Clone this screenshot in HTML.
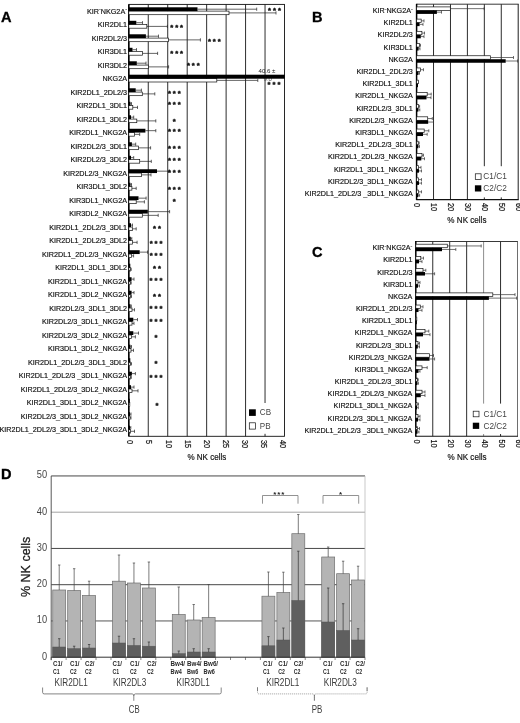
<!DOCTYPE html>
<html lang="en"><head><meta charset="utf-8"><title>Figure</title>
<style>
html,body{margin:0;padding:0;background:#fff;}
body{width:520px;height:723px;overflow:hidden;}
svg{display:block;font-family:'Liberation Sans', Arial, Helvetica, sans-serif;}
</style></head><body>
<svg width="520" height="723" viewBox="0 0 520 723">
<rect width="520" height="723" fill="#fff"/>
<g id="panelA">
<line x1="148.26" y1="4.40" x2="148.26" y2="436.30" stroke="#222" stroke-width="0.95"/>
<line x1="167.73" y1="4.40" x2="167.73" y2="436.30" stroke="#222" stroke-width="0.95"/>
<line x1="187.19" y1="4.40" x2="187.19" y2="436.30" stroke="#222" stroke-width="0.95"/>
<line x1="206.65" y1="4.40" x2="206.65" y2="436.30" stroke="#222" stroke-width="0.95"/>
<line x1="226.11" y1="4.40" x2="226.11" y2="436.30" stroke="#222" stroke-width="0.95"/>
<line x1="245.57" y1="4.40" x2="245.57" y2="436.30" stroke="#222" stroke-width="0.95"/>
<line x1="265.04" y1="4.40" x2="265.04" y2="436.30" stroke="#222" stroke-width="0.95"/>
<rect x="247.5" y="403" width="34" height="30.8" fill="#fff"/>
<rect x="128.80" y="4.40" width="155.70" height="431.90" fill="none" stroke="#111" stroke-width="0.9"/>
<line x1="128.80" y1="4.40" x2="128.80" y2="436.30" stroke="#000" stroke-width="1.5"/>
<text x="263.5" y="81.0" font-size="6.1" fill="#555">9.0</text>
<path d="M229.00 12.90H276.00M276.00 11.30V14.50" stroke="#222" stroke-width="0.7" fill="none"/>
<path d="M197.50 9.20H256.70M256.70 7.60V10.80" stroke="#222" stroke-width="0.7" fill="none"/>
<rect x="128.80" y="11.10" width="100.20" height="3.60" fill="#fff" stroke="#111" stroke-width="0.7"/>
<rect x="128.80" y="7.30" width="68.70" height="3.80" fill="#000"/>
<text x="275.48" y="12.96" font-size="7.6" text-anchor="middle" letter-spacing="1.95" fill="#111" stroke="#111" stroke-width="0.4" stroke-linejoin="round" font-weight="bold">***</text>
<text transform="translate(127.00,13.80) scale(0.9025,1)" font-size="8.00" text-anchor="end" fill="#111" stroke="#111" stroke-width="0.18" >KIR<tspan dy="-2.4" font-size="6.0">-</tspan><tspan dy="2.4">NKG2A</tspan><tspan dy="-2.4" font-size="6.0">-</tspan></text>
<path d="M146.80 26.40H167.40M167.40 24.80V28.00" stroke="#222" stroke-width="0.7" fill="none"/>
<path d="M136.30 22.70H142.50M142.50 21.10V24.30" stroke="#222" stroke-width="0.7" fill="none"/>
<rect x="128.80" y="24.60" width="18.00" height="3.60" fill="#fff" stroke="#111" stroke-width="0.7"/>
<rect x="128.80" y="20.80" width="7.50" height="3.80" fill="#000"/>
<text x="177.67" y="29.56" font-size="7.6" text-anchor="middle" letter-spacing="1.95" fill="#111" stroke="#111" stroke-width="0.4" stroke-linejoin="round" font-weight="bold">***</text>
<text transform="translate(127.00,27.30) scale(0.9025,1)" font-size="8.00" text-anchor="end" fill="#111" stroke="#111" stroke-width="0.18" >KIR2DL1</text>
<path d="M168.40 39.89H200.40M200.40 38.29V41.49" stroke="#222" stroke-width="0.7" fill="none"/>
<path d="M145.90 36.19H158.50M158.50 34.59V37.79" stroke="#222" stroke-width="0.7" fill="none"/>
<rect x="128.80" y="38.09" width="39.60" height="3.60" fill="#fff" stroke="#111" stroke-width="0.7"/>
<rect x="128.80" y="34.29" width="17.10" height="3.80" fill="#000"/>
<text x="215.28" y="43.96" font-size="7.6" text-anchor="middle" letter-spacing="1.95" fill="#111" stroke="#111" stroke-width="0.4" stroke-linejoin="round" font-weight="bold">***</text>
<text transform="translate(127.00,40.79) scale(0.9025,1)" font-size="8.00" text-anchor="end" fill="#111" stroke="#111" stroke-width="0.18" >KIR2DL2/3</text>
<path d="M142.50 53.39H157.60M157.60 51.79V54.99" stroke="#222" stroke-width="0.7" fill="none"/>
<path d="M132.50 49.69H136.50M136.50 48.09V51.29" stroke="#222" stroke-width="0.7" fill="none"/>
<rect x="128.80" y="51.59" width="13.70" height="3.60" fill="#fff" stroke="#111" stroke-width="0.7"/>
<rect x="128.80" y="47.79" width="3.70" height="3.80" fill="#000"/>
<text x="177.67" y="55.96" font-size="7.6" text-anchor="middle" letter-spacing="1.95" fill="#111" stroke="#111" stroke-width="0.4" stroke-linejoin="round" font-weight="bold">***</text>
<text transform="translate(127.00,54.29) scale(0.9025,1)" font-size="8.00" text-anchor="end" fill="#111" stroke="#111" stroke-width="0.18" >KIR3DL1</text>
<path d="M148.40 66.89H168.60M168.60 65.29V68.49" stroke="#222" stroke-width="0.7" fill="none"/>
<path d="M136.80 63.19H146.00M146.00 61.59V64.79" stroke="#222" stroke-width="0.7" fill="none"/>
<rect x="128.80" y="65.09" width="19.60" height="3.60" fill="#fff" stroke="#111" stroke-width="0.7"/>
<rect x="128.80" y="61.29" width="8.00" height="3.80" fill="#000"/>
<text x="194.28" y="67.96" font-size="7.6" text-anchor="middle" letter-spacing="1.95" fill="#111" stroke="#111" stroke-width="0.4" stroke-linejoin="round" font-weight="bold">***</text>
<text transform="translate(127.00,67.79) scale(0.9025,1)" font-size="8.00" text-anchor="end" fill="#111" stroke="#111" stroke-width="0.18" >KIR3DL2</text>
<path d="M216.80 80.38H257.80M257.80 78.78V81.98" stroke="#222" stroke-width="0.7" fill="none"/>
<rect x="128.80" y="78.60" width="88.00" height="3.40" fill="#fff" stroke="#111" stroke-width="0.7"/>
<rect x="128.80" y="74.70" width="156.00" height="4.00" fill="#000"/>
<text x="274.98" y="86.76" font-size="7.6" text-anchor="middle" letter-spacing="1.95" fill="#111" stroke="#111" stroke-width="0.4" stroke-linejoin="round" font-weight="bold">***</text>
<text transform="translate(127.00,81.28) scale(0.9025,1)" font-size="8.00" text-anchor="end" fill="#111" stroke="#111" stroke-width="0.18" >NKG2A</text>
<path d="M142.30 93.88H154.80M154.80 92.28V95.48" stroke="#222" stroke-width="0.7" fill="none"/>
<path d="M135.70 90.18H141.40M141.40 88.58V91.78" stroke="#222" stroke-width="0.7" fill="none"/>
<rect x="128.80" y="92.08" width="13.50" height="3.60" fill="#fff" stroke="#111" stroke-width="0.7"/>
<rect x="128.80" y="88.28" width="6.90" height="3.80" fill="#000"/>
<text x="175.28" y="96.16" font-size="7.6" text-anchor="middle" letter-spacing="1.95" fill="#111" stroke="#111" stroke-width="0.4" stroke-linejoin="round" font-weight="bold">***</text>
<text transform="translate(127.00,94.78) scale(0.9025,1)" font-size="8.00" text-anchor="end" fill="#111" stroke="#111" stroke-width="0.18" >KIR2DL1_2DL2/3</text>
<path d="M132.80 107.38H137.50M137.50 105.78V108.98" stroke="#222" stroke-width="0.7" fill="none"/>
<path d="M130.50 103.68H131.50M131.50 102.08V105.28" stroke="#222" stroke-width="0.7" fill="none"/>
<rect x="128.80" y="105.58" width="4.00" height="3.60" fill="#fff" stroke="#111" stroke-width="0.7"/>
<rect x="128.80" y="101.78" width="1.70" height="3.80" fill="#000"/>
<text x="175.28" y="107.36" font-size="7.6" text-anchor="middle" letter-spacing="1.95" fill="#111" stroke="#111" stroke-width="0.4" stroke-linejoin="round" font-weight="bold">***</text>
<text transform="translate(127.00,108.28) scale(0.9025,1)" font-size="8.00" text-anchor="end" fill="#111" stroke="#111" stroke-width="0.18" >KIR2DL1_3DL1</text>
<path d="M136.80 120.88H155.80M155.80 119.28V122.48" stroke="#222" stroke-width="0.7" fill="none"/>
<path d="M131.00 117.18H133.70M133.70 115.58V118.78" stroke="#222" stroke-width="0.7" fill="none"/>
<rect x="128.80" y="119.08" width="8.00" height="3.60" fill="#fff" stroke="#111" stroke-width="0.7"/>
<rect x="128.80" y="115.28" width="2.20" height="3.80" fill="#000"/>
<text x="175.28" y="123.96" font-size="7.6" text-anchor="middle" letter-spacing="1.95" fill="#111" stroke="#111" stroke-width="0.4" stroke-linejoin="round" font-weight="bold">*</text>
<text transform="translate(127.00,121.77) scale(0.9025,1)" font-size="8.00" text-anchor="end" fill="#111" stroke="#111" stroke-width="0.18" >KIR2DL1_3DL2</text>
<path d="M134.50 134.37H139.70M139.70 132.77V135.97" stroke="#222" stroke-width="0.7" fill="none"/>
<path d="M145.40 130.67H155.80M155.80 129.07V132.27" stroke="#222" stroke-width="0.7" fill="none"/>
<rect x="128.80" y="132.57" width="5.70" height="3.60" fill="#fff" stroke="#111" stroke-width="0.7"/>
<rect x="128.80" y="128.77" width="16.60" height="3.80" fill="#000"/>
<text x="175.28" y="134.46" font-size="7.6" text-anchor="middle" letter-spacing="1.95" fill="#111" stroke="#111" stroke-width="0.4" stroke-linejoin="round" font-weight="bold">***</text>
<text transform="translate(127.00,135.27) scale(0.9025,1)" font-size="8.00" text-anchor="end" fill="#111" stroke="#111" stroke-width="0.18" >KIR2DL1_NKG2A</text>
<path d="M138.50 147.87H150.60M150.60 146.27V149.47" stroke="#222" stroke-width="0.7" fill="none"/>
<path d="M131.90 144.17H135.70M135.70 142.57V145.77" stroke="#222" stroke-width="0.7" fill="none"/>
<rect x="128.80" y="146.07" width="9.70" height="3.60" fill="#fff" stroke="#111" stroke-width="0.7"/>
<rect x="128.80" y="142.27" width="3.10" height="3.80" fill="#000"/>
<text x="175.28" y="150.86" font-size="7.6" text-anchor="middle" letter-spacing="1.95" fill="#111" stroke="#111" stroke-width="0.4" stroke-linejoin="round" font-weight="bold">***</text>
<text transform="translate(127.00,148.77) scale(0.9025,1)" font-size="8.00" text-anchor="end" fill="#111" stroke="#111" stroke-width="0.18" >KIR2DL2/3_3DL1</text>
<path d="M139.70 161.37H151.30M151.30 159.77V162.97" stroke="#222" stroke-width="0.7" fill="none"/>
<path d="M131.00 157.67H133.70M133.70 156.07V159.27" stroke="#222" stroke-width="0.7" fill="none"/>
<rect x="128.80" y="159.57" width="10.90" height="3.60" fill="#fff" stroke="#111" stroke-width="0.7"/>
<rect x="128.80" y="155.77" width="2.20" height="3.80" fill="#000"/>
<text x="175.28" y="163.36" font-size="7.6" text-anchor="middle" letter-spacing="1.95" fill="#111" stroke="#111" stroke-width="0.4" stroke-linejoin="round" font-weight="bold">***</text>
<text transform="translate(127.00,162.26) scale(0.9025,1)" font-size="8.00" text-anchor="end" fill="#111" stroke="#111" stroke-width="0.18" >KIR2DL2/3_3DL2</text>
<path d="M141.40 174.86H151.00M151.00 173.26V176.46" stroke="#222" stroke-width="0.7" fill="none"/>
<path d="M157.00 171.16H169.10M169.10 169.56V172.76" stroke="#222" stroke-width="0.7" fill="none"/>
<rect x="128.80" y="173.06" width="12.60" height="3.60" fill="#fff" stroke="#111" stroke-width="0.7"/>
<rect x="128.80" y="169.26" width="28.20" height="3.80" fill="#000"/>
<text x="175.28" y="175.46" font-size="7.6" text-anchor="middle" letter-spacing="1.95" fill="#111" stroke="#111" stroke-width="0.4" stroke-linejoin="round" font-weight="bold">***</text>
<text transform="translate(127.00,175.76) scale(0.9025,1)" font-size="8.00" text-anchor="end" fill="#111" stroke="#111" stroke-width="0.18" >KIR2DL2/3_NKG2A</text>
<path d="M131.90 188.36H136.20M136.20 186.76V189.96" stroke="#222" stroke-width="0.7" fill="none"/>
<path d="M130.50 184.66H131.50M131.50 183.06V186.26" stroke="#222" stroke-width="0.7" fill="none"/>
<rect x="128.80" y="186.56" width="3.10" height="3.60" fill="#fff" stroke="#111" stroke-width="0.7"/>
<rect x="128.80" y="182.76" width="1.70" height="3.80" fill="#000"/>
<text x="175.28" y="192.26" font-size="7.6" text-anchor="middle" letter-spacing="1.95" fill="#111" stroke="#111" stroke-width="0.4" stroke-linejoin="round" font-weight="bold">***</text>
<text transform="translate(127.00,189.26) scale(0.9025,1)" font-size="8.00" text-anchor="end" fill="#111" stroke="#111" stroke-width="0.18" >KIR3DL1_3DL2</text>
<path d="M136.20 201.86H144.40M144.40 200.26V203.46" stroke="#222" stroke-width="0.7" fill="none"/>
<path d="M138.50 198.16H146.10M146.10 196.56V199.76" stroke="#222" stroke-width="0.7" fill="none"/>
<rect x="128.80" y="200.06" width="7.40" height="3.60" fill="#fff" stroke="#111" stroke-width="0.7"/>
<rect x="128.80" y="196.26" width="9.70" height="3.80" fill="#000"/>
<text x="175.28" y="204.36" font-size="7.6" text-anchor="middle" letter-spacing="1.95" fill="#111" stroke="#111" stroke-width="0.4" stroke-linejoin="round" font-weight="bold">*</text>
<text transform="translate(127.00,202.75) scale(0.9025,1)" font-size="8.00" text-anchor="end" fill="#111" stroke="#111" stroke-width="0.18" >KIR3DL1_NKG2A</text>
<path d="M142.30 215.35H158.20M158.20 213.75V216.95" stroke="#222" stroke-width="0.7" fill="none"/>
<path d="M147.80 211.65H169.60M169.60 210.05V213.25" stroke="#222" stroke-width="0.7" fill="none"/>
<rect x="128.80" y="213.55" width="13.50" height="3.60" fill="#fff" stroke="#111" stroke-width="0.7"/>
<rect x="128.80" y="209.75" width="19.00" height="3.80" fill="#000"/>
<text transform="translate(127.00,216.25) scale(0.9025,1)" font-size="8.00" text-anchor="end" fill="#111" stroke="#111" stroke-width="0.18" >KIR3DL2_NKG2A</text>
<path d="M132.30 228.85H136.20M136.20 227.25V230.45" stroke="#222" stroke-width="0.7" fill="none"/>
<path d="M131.00 225.15H132.50M132.50 223.55V226.75" stroke="#222" stroke-width="0.7" fill="none"/>
<rect x="128.80" y="227.05" width="3.50" height="3.60" fill="#fff" stroke="#111" stroke-width="0.7"/>
<rect x="128.80" y="223.25" width="2.20" height="3.80" fill="#000"/>
<text x="157.97" y="230.66" font-size="7.6" text-anchor="middle" letter-spacing="1.95" fill="#111" stroke="#111" stroke-width="0.4" stroke-linejoin="round" font-weight="bold">**</text>
<text transform="translate(127.00,229.75) scale(0.9025,1)" font-size="8.00" text-anchor="end" fill="#111" stroke="#111" stroke-width="0.18" >KIR2DL1_2DL2/3_3DL1</text>
<path d="M132.50 242.35H137.10M137.10 240.75V243.95" stroke="#222" stroke-width="0.7" fill="none"/>
<path d="M130.80 238.65H131.80M131.80 237.05V240.25" stroke="#222" stroke-width="0.7" fill="none"/>
<rect x="128.80" y="240.55" width="3.70" height="3.60" fill="#fff" stroke="#111" stroke-width="0.7"/>
<rect x="128.80" y="236.75" width="2.00" height="3.80" fill="#000"/>
<text x="157.07" y="245.56" font-size="7.6" text-anchor="middle" letter-spacing="1.95" fill="#111" stroke="#111" stroke-width="0.4" stroke-linejoin="round" font-weight="bold">***</text>
<text transform="translate(127.00,243.25) scale(0.9025,1)" font-size="8.00" text-anchor="end" fill="#111" stroke="#111" stroke-width="0.18" >KIR2DL1_2DL2/3_3DL2</text>
<path d="M131.60 255.84H133.60M133.60 254.24V257.44" stroke="#222" stroke-width="0.7" fill="none"/>
<path d="M139.70 252.14H147.50M147.50 250.54V253.74" stroke="#222" stroke-width="0.7" fill="none"/>
<rect x="128.80" y="254.04" width="2.80" height="3.60" fill="#fff" stroke="#111" stroke-width="0.7"/>
<rect x="128.80" y="250.24" width="10.90" height="3.80" fill="#000"/>
<text x="157.07" y="257.66" font-size="7.6" text-anchor="middle" letter-spacing="1.95" fill="#111" stroke="#111" stroke-width="0.4" stroke-linejoin="round" font-weight="bold">***</text>
<text transform="translate(127.00,256.74) scale(0.9025,1)" font-size="8.00" text-anchor="end" fill="#111" stroke="#111" stroke-width="0.18" >KIR2DL1_2DL2/3_NKG2A</text>
<path d="M130.30 269.34H131.20M131.20 267.74V270.94" stroke="#222" stroke-width="0.7" fill="none"/>
<rect x="128.80" y="267.54" width="1.50" height="3.60" fill="#fff" stroke="#111" stroke-width="0.7"/>
<rect x="128.80" y="263.74" width="1.50" height="3.80" fill="#000"/>
<text x="157.97" y="271.36" font-size="7.6" text-anchor="middle" letter-spacing="1.95" fill="#111" stroke="#111" stroke-width="0.4" stroke-linejoin="round" font-weight="bold">**</text>
<text transform="translate(127.00,270.24) scale(0.9025,1)" font-size="8.00" text-anchor="end" fill="#111" stroke="#111" stroke-width="0.18" >KIR2DL1_3DL1_3DL2</text>
<path d="M130.30 282.84H131.20M131.20 281.24V284.44" stroke="#222" stroke-width="0.7" fill="none"/>
<path d="M131.60 279.14H134.00M134.00 277.54V280.74" stroke="#222" stroke-width="0.7" fill="none"/>
<rect x="128.80" y="281.04" width="1.50" height="3.60" fill="#fff" stroke="#111" stroke-width="0.7"/>
<rect x="128.80" y="277.24" width="2.80" height="3.80" fill="#000"/>
<text x="156.97" y="283.46" font-size="7.6" text-anchor="middle" letter-spacing="1.95" fill="#111" stroke="#111" stroke-width="0.4" stroke-linejoin="round" font-weight="bold">***</text>
<text transform="translate(127.00,283.74) scale(0.9025,1)" font-size="8.00" text-anchor="end" fill="#111" stroke="#111" stroke-width="0.18" >KIR2DL1_3DL1_NKG2A</text>
<path d="M130.30 296.33H131.50M131.50 294.73V297.93" stroke="#222" stroke-width="0.7" fill="none"/>
<path d="M131.60 292.63H134.00M134.00 291.03V294.23" stroke="#222" stroke-width="0.7" fill="none"/>
<rect x="128.80" y="294.53" width="1.50" height="3.60" fill="#fff" stroke="#111" stroke-width="0.7"/>
<rect x="128.80" y="290.73" width="2.80" height="3.80" fill="#000"/>
<text x="157.97" y="298.96" font-size="7.6" text-anchor="middle" letter-spacing="1.95" fill="#111" stroke="#111" stroke-width="0.4" stroke-linejoin="round" font-weight="bold">**</text>
<text transform="translate(127.00,297.23) scale(0.9025,1)" font-size="8.00" text-anchor="end" fill="#111" stroke="#111" stroke-width="0.18" >KIR2DL1_3DL2_NKG2A</text>
<path d="M132.00 309.83H134.50M134.50 308.23V311.43" stroke="#222" stroke-width="0.7" fill="none"/>
<path d="M130.50 306.13H131.30M131.30 304.53V307.73" stroke="#222" stroke-width="0.7" fill="none"/>
<rect x="128.80" y="308.03" width="3.20" height="3.60" fill="#fff" stroke="#111" stroke-width="0.7"/>
<rect x="128.80" y="304.23" width="1.70" height="3.80" fill="#000"/>
<text x="156.97" y="311.16" font-size="7.6" text-anchor="middle" letter-spacing="1.95" fill="#111" stroke="#111" stroke-width="0.4" stroke-linejoin="round" font-weight="bold">***</text>
<text transform="translate(127.00,310.73) scale(0.9025,1)" font-size="8.00" text-anchor="end" fill="#111" stroke="#111" stroke-width="0.18" >KIR2DL2/3_3DL1_3DL2</text>
<path d="M132.00 323.33H134.00M134.00 321.73V324.93" stroke="#222" stroke-width="0.7" fill="none"/>
<path d="M133.30 319.63H137.50M137.50 318.03V321.23" stroke="#222" stroke-width="0.7" fill="none"/>
<rect x="128.80" y="321.53" width="3.20" height="3.60" fill="#fff" stroke="#111" stroke-width="0.7"/>
<rect x="128.80" y="317.73" width="4.50" height="3.80" fill="#000"/>
<text x="156.97" y="323.76" font-size="7.6" text-anchor="middle" letter-spacing="1.95" fill="#111" stroke="#111" stroke-width="0.4" stroke-linejoin="round" font-weight="bold">***</text>
<text transform="translate(127.00,324.23) scale(0.9025,1)" font-size="8.00" text-anchor="end" fill="#111" stroke="#111" stroke-width="0.18" >KIR2DL2/3_3DL1_NKG2A</text>
<path d="M131.50 336.82H135.40M135.40 335.22V338.43" stroke="#222" stroke-width="0.7" fill="none"/>
<path d="M133.30 333.12H138.50M138.50 331.52V334.73" stroke="#222" stroke-width="0.7" fill="none"/>
<rect x="128.80" y="335.02" width="2.70" height="3.60" fill="#fff" stroke="#111" stroke-width="0.7"/>
<rect x="128.80" y="331.22" width="4.50" height="3.80" fill="#000"/>
<text x="157.07" y="340.06" font-size="7.6" text-anchor="middle" letter-spacing="1.95" fill="#111" stroke="#111" stroke-width="0.4" stroke-linejoin="round" font-weight="bold">*</text>
<text transform="translate(127.00,337.72) scale(0.9025,1)" font-size="8.00" text-anchor="end" fill="#111" stroke="#111" stroke-width="0.18" >KIR2DL2/3_3DL2_NKG2A</text>
<path d="M131.00 350.32H133.50M133.50 348.72V351.92" stroke="#222" stroke-width="0.7" fill="none"/>
<path d="M130.50 346.62H131.50M131.50 345.02V348.22" stroke="#222" stroke-width="0.7" fill="none"/>
<rect x="128.80" y="348.52" width="2.20" height="3.60" fill="#fff" stroke="#111" stroke-width="0.7"/>
<rect x="128.80" y="344.72" width="1.70" height="3.80" fill="#000"/>
<text transform="translate(127.00,351.22) scale(0.9025,1)" font-size="8.00" text-anchor="end" fill="#111" stroke="#111" stroke-width="0.18" >KIR3DL1_3DL2_NKG2A</text>
<path d="M130.50 363.82H131.50M131.50 362.22V365.42" stroke="#222" stroke-width="0.7" fill="none"/>
<rect x="128.80" y="362.02" width="1.70" height="3.60" fill="#fff" stroke="#111" stroke-width="0.7"/>
<rect x="128.80" y="358.22" width="1.50" height="3.80" fill="#000"/>
<text x="157.07" y="365.96" font-size="7.6" text-anchor="middle" letter-spacing="1.95" fill="#111" stroke="#111" stroke-width="0.4" stroke-linejoin="round" font-weight="bold">*</text>
<text transform="translate(127.00,364.72) scale(0.9025,1)" font-size="8.00" text-anchor="end" fill="#111" stroke="#111" stroke-width="0.18" >KIR2DL1_2DL2/3_3DL1_3DL2</text>
<path d="M130.30 377.32H131.30M131.30 375.72V378.92" stroke="#222" stroke-width="0.7" fill="none"/>
<path d="M131.90 373.62H135.40M135.40 372.02V375.22" stroke="#222" stroke-width="0.7" fill="none"/>
<rect x="128.80" y="375.52" width="1.50" height="3.60" fill="#fff" stroke="#111" stroke-width="0.7"/>
<rect x="128.80" y="371.72" width="3.10" height="3.80" fill="#000"/>
<text x="156.97" y="379.86" font-size="7.6" text-anchor="middle" letter-spacing="1.95" fill="#111" stroke="#111" stroke-width="0.4" stroke-linejoin="round" font-weight="bold">***</text>
<text transform="translate(127.00,378.21) scale(0.9025,1)" font-size="8.00" text-anchor="end" fill="#111" stroke="#111" stroke-width="0.18" >KIR2DL1_2DL2/3 _3DL1_NKG2A</text>
<path d="M132.00 390.81H138.00M138.00 389.21V392.41" stroke="#222" stroke-width="0.7" fill="none"/>
<path d="M131.00 387.11H134.00M134.00 385.51V388.71" stroke="#222" stroke-width="0.7" fill="none"/>
<rect x="128.80" y="389.01" width="3.20" height="3.60" fill="#fff" stroke="#111" stroke-width="0.7"/>
<rect x="128.80" y="385.21" width="2.20" height="3.80" fill="#000"/>
<text transform="translate(127.00,391.71) scale(0.9025,1)" font-size="8.00" text-anchor="end" fill="#111" stroke="#111" stroke-width="0.18" >KIR2DL1_2DL2/3_3DL2_NKG2A</text>
<rect x="128.80" y="402.51" width="1.00" height="3.60" fill="#fff" stroke="#111" stroke-width="0.7"/>
<rect x="128.80" y="398.71" width="1.00" height="3.80" fill="#000"/>
<text x="157.97" y="407.96" font-size="7.6" text-anchor="middle" letter-spacing="1.95" fill="#111" stroke="#111" stroke-width="0.4" stroke-linejoin="round" font-weight="bold">*</text>
<text transform="translate(127.00,405.21) scale(0.9025,1)" font-size="8.00" text-anchor="end" fill="#111" stroke="#111" stroke-width="0.18" >KIR2DL1_3DL1_3DL2_NKG2A</text>
<path d="M130.00 417.81H131.00M131.00 416.21V419.41" stroke="#222" stroke-width="0.7" fill="none"/>
<path d="M130.00 414.11H131.00M131.00 412.51V415.71" stroke="#222" stroke-width="0.7" fill="none"/>
<rect x="128.80" y="416.01" width="1.20" height="3.60" fill="#fff" stroke="#111" stroke-width="0.7"/>
<rect x="128.80" y="412.21" width="1.20" height="3.80" fill="#000"/>
<text transform="translate(127.00,418.70) scale(0.9025,1)" font-size="8.00" text-anchor="end" fill="#111" stroke="#111" stroke-width="0.18" >KIR2DL2/3_3DL1_3DL2_NKG2A</text>
<path d="M130.50 431.30H134.50M134.50 429.70V432.90" stroke="#222" stroke-width="0.7" fill="none"/>
<path d="M130.00 427.60H130.80M130.80 426.00V429.20" stroke="#222" stroke-width="0.7" fill="none"/>
<rect x="128.80" y="429.50" width="1.70" height="3.60" fill="#fff" stroke="#111" stroke-width="0.7"/>
<rect x="128.80" y="425.70" width="1.20" height="3.80" fill="#000"/>
<text transform="translate(127.00,432.20) scale(0.9025,1)" font-size="8.00" text-anchor="end" fill="#111" stroke="#111" stroke-width="0.18" >KIR2DL1_2DL2/3_3DL1_3DL2_NKG2A</text>
<text x="258.5" y="73.3" font-size="6.1" fill="#222">40.6 ±</text>
<text transform="translate(127.40,439.9) rotate(90) scale(0.84,1)" font-size="8.8" fill="#111" stroke="#111" stroke-width="0.18">0</text>
<text transform="translate(146.49,439.9) rotate(90) scale(0.84,1)" font-size="8.8" fill="#111" stroke="#111" stroke-width="0.18">5</text>
<text transform="translate(165.58,439.9) rotate(90) scale(0.84,1)" font-size="8.8" fill="#111" stroke="#111" stroke-width="0.18">10</text>
<text transform="translate(184.67,439.9) rotate(90) scale(0.84,1)" font-size="8.8" fill="#111" stroke="#111" stroke-width="0.18">15</text>
<text transform="translate(203.76,439.9) rotate(90) scale(0.84,1)" font-size="8.8" fill="#111" stroke="#111" stroke-width="0.18">20</text>
<text transform="translate(222.85,439.9) rotate(90) scale(0.84,1)" font-size="8.8" fill="#111" stroke="#111" stroke-width="0.18">25</text>
<text transform="translate(241.94,439.9) rotate(90) scale(0.84,1)" font-size="8.8" fill="#111" stroke="#111" stroke-width="0.18">30</text>
<text transform="translate(261.03,439.9) rotate(90) scale(0.84,1)" font-size="8.8" fill="#111" stroke="#111" stroke-width="0.18">35</text>
<text transform="translate(280.12,439.9) rotate(90) scale(0.84,1)" font-size="8.8" fill="#111" stroke="#111" stroke-width="0.18">40</text>
<text transform="translate(206.8,460) scale(0.905,1)" font-size="8.9" text-anchor="middle" fill="#111" stroke="#111" stroke-width="0.18">% NK cells</text>
<rect x="249" y="409.3" width="6.8" height="6.6" fill="#000"/>
<rect x="249.3" y="422.8" width="6.3" height="6.3" fill="#fff" stroke="#111" stroke-width="0.7"/>
<text transform="translate(259.8,415.1) scale(0.9,1)" font-size="9" fill="#444">CB</text>
<text transform="translate(259.8,428.8) scale(0.9,1)" font-size="9" fill="#444">PB</text>
<text x="1.1" y="22" font-size="14.6" font-weight="bold" fill="#000" stroke="#000" stroke-width="0.3">A</text>
</g>
<g id="panelB">
<line x1="433.53" y1="4.20" x2="433.53" y2="199.60" stroke="#222" stroke-width="0.95"/>
<line x1="450.47" y1="4.20" x2="450.47" y2="199.60" stroke="#222" stroke-width="0.95"/>
<line x1="467.40" y1="4.20" x2="467.40" y2="199.60" stroke="#222" stroke-width="0.95"/>
<line x1="484.33" y1="4.20" x2="484.33" y2="199.60" stroke="#222" stroke-width="0.95"/>
<line x1="501.27" y1="4.20" x2="501.27" y2="199.60" stroke="#222" stroke-width="0.95"/>
<rect x="471.70" y="166.20" width="44.50" height="31.20" fill="#fff"/>
<path d="M416.60 4.20H518.70" fill="none" stroke="#222" stroke-width="0.9"/>
<path d="M518.20 4.20V199.60" fill="none" stroke="#111" stroke-width="0.95"/>
<path d="M416.60 199.60H518.70" fill="none" stroke="#111" stroke-width="1.1"/>
<line x1="416.60" y1="3.80" x2="416.60" y2="200.10" stroke="#000" stroke-width="1.5"/>
<path d="M450.30 8.65H484.20M484.20 7.15V10.15" stroke="#333" stroke-width="0.7" fill="none"/>
<path d="M436.90 12.15H441.50M441.50 10.65V13.65" stroke="#333" stroke-width="0.7" fill="none"/>
<rect x="416.60" y="6.90" width="33.70" height="3.50" fill="#fff" stroke="#111" stroke-width="0.7"/>
<rect x="416.60" y="10.40" width="20.30" height="3.50" fill="#000"/>
<text transform="translate(412.80,12.91) scale(0.9025,1)" font-size="7.98" text-anchor="end" fill="#111" stroke="#111" stroke-width="0.18" >KIR<tspan dy="-2.4" font-size="6.0">-</tspan><tspan dy="2.4">NKG2A</tspan><tspan dy="-2.4" font-size="6.0">-</tspan></text>
<path d="M421.20 20.86H424.00M424.00 19.36V22.36" stroke="#333" stroke-width="0.7" fill="none"/>
<path d="M419.60 24.36H423.00M423.00 22.86V25.86" stroke="#333" stroke-width="0.7" fill="none"/>
<rect x="416.60" y="19.11" width="4.60" height="3.50" fill="#fff" stroke="#111" stroke-width="0.7"/>
<rect x="416.60" y="22.61" width="3.00" height="3.50" fill="#000"/>
<text transform="translate(412.80,25.12) scale(0.9025,1)" font-size="7.98" text-anchor="end" fill="#111" stroke="#111" stroke-width="0.18" >KIR2DL1</text>
<path d="M421.90 33.08H424.50M424.50 31.58V34.58" stroke="#333" stroke-width="0.7" fill="none"/>
<path d="M420.80 36.58H424.00M424.00 35.08V38.08" stroke="#333" stroke-width="0.7" fill="none"/>
<rect x="416.60" y="31.32" width="5.30" height="3.50" fill="#fff" stroke="#111" stroke-width="0.7"/>
<rect x="416.60" y="34.83" width="4.20" height="3.50" fill="#000"/>
<text transform="translate(412.80,37.33) scale(0.9025,1)" font-size="7.98" text-anchor="end" fill="#111" stroke="#111" stroke-width="0.18" >KIR2DL2/3</text>
<path d="M419.40 45.29H420.50M420.50 43.79V46.79" stroke="#333" stroke-width="0.7" fill="none"/>
<path d="M418.60 48.79H420.00M420.00 47.29V50.29" stroke="#333" stroke-width="0.7" fill="none"/>
<rect x="416.60" y="43.54" width="2.80" height="3.50" fill="#fff" stroke="#111" stroke-width="0.7"/>
<rect x="416.60" y="47.04" width="2.00" height="3.50" fill="#000"/>
<text transform="translate(412.80,49.54) scale(0.9025,1)" font-size="7.98" text-anchor="end" fill="#111" stroke="#111" stroke-width="0.18" >KIR3DL1</text>
<path d="M490.50 57.50H513.50M513.50 56.00V59.00" stroke="#333" stroke-width="0.7" fill="none"/>
<path d="M505.70 61.00H517.50M517.50 59.50V62.50" stroke="#333" stroke-width="0.7" fill="none"/>
<rect x="416.60" y="55.75" width="73.90" height="3.50" fill="#fff" stroke="#111" stroke-width="0.7"/>
<rect x="416.60" y="59.25" width="89.10" height="3.50" fill="#000"/>
<text transform="translate(412.80,61.76) scale(0.9025,1)" font-size="7.98" text-anchor="end" fill="#111" stroke="#111" stroke-width="0.18" >NKG2A</text>
<path d="M420.60 69.71H423.50M423.50 68.21V71.21" stroke="#333" stroke-width="0.7" fill="none"/>
<path d="M418.50 73.21H419.50M419.50 71.71V74.71" stroke="#333" stroke-width="0.7" fill="none"/>
<rect x="416.60" y="67.96" width="4.00" height="3.50" fill="#fff" stroke="#111" stroke-width="0.7"/>
<rect x="416.60" y="71.46" width="1.90" height="3.50" fill="#000"/>
<text transform="translate(412.80,73.97) scale(0.9025,1)" font-size="7.98" text-anchor="end" fill="#111" stroke="#111" stroke-width="0.18" >KIR2DL1_2DL2/3</text>
<rect x="416.60" y="80.18" width="1.80" height="3.50" fill="#fff" stroke="#111" stroke-width="0.7"/>
<rect x="416.60" y="83.68" width="1.40" height="3.50" fill="#000"/>
<text transform="translate(412.80,86.18) scale(0.9025,1)" font-size="7.98" text-anchor="end" fill="#111" stroke="#111" stroke-width="0.18" >KIR2DL1_3DL1</text>
<path d="M427.20 94.14H431.20M431.20 92.64V95.64" stroke="#333" stroke-width="0.7" fill="none"/>
<path d="M426.50 97.64H431.00M431.00 96.14V99.14" stroke="#333" stroke-width="0.7" fill="none"/>
<rect x="416.60" y="92.39" width="10.60" height="3.50" fill="#fff" stroke="#111" stroke-width="0.7"/>
<rect x="416.60" y="95.89" width="9.90" height="3.50" fill="#000"/>
<text transform="translate(412.80,98.39) scale(0.9025,1)" font-size="7.98" text-anchor="end" fill="#111" stroke="#111" stroke-width="0.18" >KIR2DL1_NKG2A</text>
<path d="M418.60 106.35H419.60M419.60 104.85V107.85" stroke="#333" stroke-width="0.7" fill="none"/>
<path d="M418.40 109.85H419.80M419.80 108.35V111.35" stroke="#333" stroke-width="0.7" fill="none"/>
<rect x="416.60" y="104.60" width="2.00" height="3.50" fill="#fff" stroke="#111" stroke-width="0.7"/>
<rect x="416.60" y="108.10" width="1.80" height="3.50" fill="#000"/>
<text transform="translate(412.80,110.61) scale(0.9025,1)" font-size="7.98" text-anchor="end" fill="#111" stroke="#111" stroke-width="0.18" >KIR2DL2/3_3DL1</text>
<path d="M427.70 118.56H432.30M432.30 117.06V120.06" stroke="#333" stroke-width="0.7" fill="none"/>
<path d="M428.20 122.06H433.50M433.50 120.56V123.56" stroke="#333" stroke-width="0.7" fill="none"/>
<rect x="416.60" y="116.81" width="11.10" height="3.50" fill="#fff" stroke="#111" stroke-width="0.7"/>
<rect x="416.60" y="120.31" width="11.60" height="3.50" fill="#000"/>
<text transform="translate(412.80,122.82) scale(0.9025,1)" font-size="7.98" text-anchor="end" fill="#111" stroke="#111" stroke-width="0.18" >KIR2DL2/3_NKG2A</text>
<path d="M424.20 130.78H428.80M428.80 129.28V132.28" stroke="#333" stroke-width="0.7" fill="none"/>
<path d="M423.00 134.28H427.20M427.20 132.78V135.78" stroke="#333" stroke-width="0.7" fill="none"/>
<rect x="416.60" y="129.03" width="7.60" height="3.50" fill="#fff" stroke="#111" stroke-width="0.7"/>
<rect x="416.60" y="132.53" width="6.40" height="3.50" fill="#000"/>
<text transform="translate(412.80,135.03) scale(0.9025,1)" font-size="7.98" text-anchor="end" fill="#111" stroke="#111" stroke-width="0.18" >KIR3DL1_NKG2A</text>
<path d="M418.20 142.99H419.20M419.20 141.49V144.49" stroke="#333" stroke-width="0.7" fill="none"/>
<path d="M418.40 146.49H419.50M419.50 144.99V147.99" stroke="#333" stroke-width="0.7" fill="none"/>
<rect x="416.60" y="141.24" width="1.60" height="3.50" fill="#fff" stroke="#111" stroke-width="0.7"/>
<rect x="416.60" y="144.74" width="1.80" height="3.50" fill="#000"/>
<text transform="translate(412.80,147.24) scale(0.9025,1)" font-size="7.98" text-anchor="end" fill="#111" stroke="#111" stroke-width="0.18" >KIR2DL1_2DL2/3_3DL1</text>
<path d="M422.00 155.20H423.50M423.50 153.70V156.70" stroke="#333" stroke-width="0.7" fill="none"/>
<path d="M421.30 158.70H424.50M424.50 157.20V160.20" stroke="#333" stroke-width="0.7" fill="none"/>
<rect x="416.60" y="153.45" width="5.40" height="3.50" fill="#fff" stroke="#111" stroke-width="0.7"/>
<rect x="416.60" y="156.95" width="4.70" height="3.50" fill="#000"/>
<text transform="translate(412.80,159.46) scale(0.9025,1)" font-size="7.98" text-anchor="end" fill="#111" stroke="#111" stroke-width="0.18" >KIR2DL1_2DL2/3_NKG2A</text>
<path d="M418.50 167.41H421.00M421.00 165.91V168.91" stroke="#333" stroke-width="0.7" fill="none"/>
<path d="M419.00 170.91H421.50M421.50 169.41V172.41" stroke="#333" stroke-width="0.7" fill="none"/>
<rect x="416.60" y="165.66" width="1.90" height="3.50" fill="#fff" stroke="#111" stroke-width="0.7"/>
<rect x="416.60" y="169.16" width="2.40" height="3.50" fill="#000"/>
<text transform="translate(412.80,171.67) scale(0.9025,1)" font-size="7.98" text-anchor="end" fill="#111" stroke="#111" stroke-width="0.18" >KIR2DL1_3DL1_NKG2A</text>
<path d="M418.60 179.62H421.50M421.50 178.12V181.12" stroke="#333" stroke-width="0.7" fill="none"/>
<path d="M419.00 183.12H421.50M421.50 181.62V184.62" stroke="#333" stroke-width="0.7" fill="none"/>
<rect x="416.60" y="177.87" width="2.00" height="3.50" fill="#fff" stroke="#111" stroke-width="0.7"/>
<rect x="416.60" y="181.37" width="2.40" height="3.50" fill="#000"/>
<text transform="translate(412.80,183.88) scale(0.9025,1)" font-size="7.98" text-anchor="end" fill="#111" stroke="#111" stroke-width="0.18" >KIR2DL2/3_3DL1_NKG2A</text>
<path d="M418.60 191.84H421.50M421.50 190.34V193.34" stroke="#333" stroke-width="0.7" fill="none"/>
<path d="M418.40 195.34H419.60M419.60 193.84V196.84" stroke="#333" stroke-width="0.7" fill="none"/>
<rect x="416.60" y="190.09" width="2.00" height="3.50" fill="#fff" stroke="#111" stroke-width="0.7"/>
<rect x="416.60" y="193.59" width="1.80" height="3.50" fill="#000"/>
<text transform="translate(412.80,196.09) scale(0.9025,1)" font-size="7.98" text-anchor="end" fill="#111" stroke="#111" stroke-width="0.18" >KIR2DL1_2DL2/3 _3DL1_NKG2A</text>
<text transform="translate(414.10,202.90) rotate(90) scale(0.84,1)" font-size="8.8" fill="#111" stroke="#111" stroke-width="0.18">0</text>
<text transform="translate(431.03,202.90) rotate(90) scale(0.84,1)" font-size="8.8" fill="#111" stroke="#111" stroke-width="0.18">10</text>
<text transform="translate(447.97,202.90) rotate(90) scale(0.84,1)" font-size="8.8" fill="#111" stroke="#111" stroke-width="0.18">20</text>
<text transform="translate(464.90,202.90) rotate(90) scale(0.84,1)" font-size="8.8" fill="#111" stroke="#111" stroke-width="0.18">30</text>
<text transform="translate(481.83,202.90) rotate(90) scale(0.84,1)" font-size="8.8" fill="#111" stroke="#111" stroke-width="0.18">40</text>
<text transform="translate(498.77,202.90) rotate(90) scale(0.84,1)" font-size="8.8" fill="#111" stroke="#111" stroke-width="0.18">50</text>
<text transform="translate(515.70,202.90) rotate(90) scale(0.84,1)" font-size="8.8" fill="#111" stroke="#111" stroke-width="0.18">60</text>
<text transform="translate(466.90,223.20) scale(0.905,1)" font-size="8.95" text-anchor="middle" fill="#111" stroke="#111" stroke-width="0.18">% NK cells</text>
<rect x="475.30" y="173.80" width="5.8" height="5.6" fill="#fff" stroke="#111" stroke-width="0.7"/>
<rect x="474.90" y="185.30" width="6.4" height="6.2" fill="#000"/>
<text transform="translate(483.30,179.10) scale(0.9,1)" font-size="9.2" fill="#444">C1/C1</text>
<text transform="translate(483.30,191.40) scale(0.9,1)" font-size="9.2" fill="#444">C2/C2</text>
<text x="312.10" y="21.90" font-size="14.6" font-weight="bold" fill="#000" stroke="#000" stroke-width="0.3">B</text>
</g>
<g id="panelC">
<line x1="432.75" y1="241.50" x2="432.75" y2="436.20" stroke="#222" stroke-width="0.95"/>
<line x1="449.70" y1="241.50" x2="449.70" y2="436.20" stroke="#222" stroke-width="0.95"/>
<line x1="466.65" y1="241.50" x2="466.65" y2="436.20" stroke="#222" stroke-width="0.95"/>
<line x1="483.60" y1="241.50" x2="483.60" y2="436.20" stroke="#888" stroke-width="0.95"/>
<line x1="500.55" y1="241.50" x2="500.55" y2="436.20" stroke="#222" stroke-width="0.95"/>
<rect x="469.60" y="403.60" width="44.50" height="30.40" fill="#fff"/>
<path d="M415.80 241.50H518.00" fill="none" stroke="#222" stroke-width="0.9"/>
<path d="M517.50 241.50V436.20" fill="none" stroke="#666" stroke-width="0.95"/>
<path d="M415.80 436.20H518.00" fill="none" stroke="#111" stroke-width="1.1"/>
<line x1="415.80" y1="241.10" x2="415.80" y2="436.70" stroke="#000" stroke-width="1.5"/>
<path d="M447.30 245.95H481.20M481.20 244.45V247.45" stroke="#333" stroke-width="0.7" fill="none"/>
<path d="M442.00 249.45H455.80M455.80 247.95V250.95" stroke="#333" stroke-width="0.7" fill="none"/>
<rect x="415.80" y="244.20" width="31.50" height="3.50" fill="#fff" stroke="#111" stroke-width="0.7"/>
<rect x="415.80" y="247.70" width="26.20" height="3.50" fill="#000"/>
<text transform="translate(412.40,250.18) scale(0.9025,1)" font-size="7.98" text-anchor="end" fill="#111" stroke="#111" stroke-width="0.18" >KIR<tspan dy="-2.4" font-size="6.0">-</tspan><tspan dy="2.4">NKG2A</tspan><tspan dy="-2.4" font-size="6.0">-</tspan></text>
<path d="M420.80 258.12H423.50M423.50 256.62V259.62" stroke="#333" stroke-width="0.7" fill="none"/>
<path d="M419.00 261.62H422.00M422.00 260.12V263.12" stroke="#333" stroke-width="0.7" fill="none"/>
<rect x="415.80" y="256.37" width="5.00" height="3.50" fill="#fff" stroke="#111" stroke-width="0.7"/>
<rect x="415.80" y="259.87" width="3.20" height="3.50" fill="#000"/>
<text transform="translate(412.40,262.35) scale(0.9025,1)" font-size="7.98" text-anchor="end" fill="#111" stroke="#111" stroke-width="0.18" >KIR2DL1</text>
<path d="M423.00 270.29H425.80M425.80 268.79V271.79" stroke="#333" stroke-width="0.7" fill="none"/>
<path d="M425.00 273.79H434.60M434.60 272.29V275.29" stroke="#333" stroke-width="0.7" fill="none"/>
<rect x="415.80" y="268.54" width="7.20" height="3.50" fill="#fff" stroke="#111" stroke-width="0.7"/>
<rect x="415.80" y="272.04" width="9.20" height="3.50" fill="#000"/>
<text transform="translate(412.40,274.52) scale(0.9025,1)" font-size="7.98" text-anchor="end" fill="#111" stroke="#111" stroke-width="0.18" >KIR2DL2/3</text>
<path d="M418.00 282.46H420.00M420.00 280.96V283.96" stroke="#333" stroke-width="0.7" fill="none"/>
<path d="M418.00 285.96H419.50M419.50 284.46V287.46" stroke="#333" stroke-width="0.7" fill="none"/>
<rect x="415.80" y="280.71" width="2.20" height="3.50" fill="#fff" stroke="#111" stroke-width="0.7"/>
<rect x="415.80" y="284.21" width="2.20" height="3.50" fill="#000"/>
<text transform="translate(412.40,286.69) scale(0.9025,1)" font-size="7.98" text-anchor="end" fill="#111" stroke="#111" stroke-width="0.18" >KIR3DL1</text>
<path d="M492.80 294.62H515.00M515.00 293.12V296.12" stroke="#333" stroke-width="0.7" fill="none"/>
<path d="M488.90 298.12H516.50M516.50 296.62V299.62" stroke="#333" stroke-width="0.7" fill="none"/>
<rect x="415.80" y="292.88" width="77.00" height="3.50" fill="#fff" stroke="#111" stroke-width="0.7"/>
<rect x="415.80" y="296.38" width="73.10" height="3.50" fill="#000"/>
<text transform="translate(412.40,298.86) scale(0.9025,1)" font-size="7.98" text-anchor="end" fill="#111" stroke="#111" stroke-width="0.18" >NKG2A</text>
<path d="M420.30 306.79H423.00M423.00 305.29V308.29" stroke="#333" stroke-width="0.7" fill="none"/>
<path d="M418.50 310.29H422.00M422.00 308.79V311.79" stroke="#333" stroke-width="0.7" fill="none"/>
<rect x="415.80" y="305.04" width="4.50" height="3.50" fill="#fff" stroke="#111" stroke-width="0.7"/>
<rect x="415.80" y="308.54" width="2.70" height="3.50" fill="#000"/>
<text transform="translate(412.40,311.03) scale(0.9025,1)" font-size="7.98" text-anchor="end" fill="#111" stroke="#111" stroke-width="0.18" >KIR2DL1_2DL2/3</text>
<rect x="415.80" y="317.21" width="1.00" height="3.50" fill="#fff" stroke="#111" stroke-width="0.7"/>
<rect x="415.80" y="320.71" width="1.00" height="3.50" fill="#000"/>
<text transform="translate(412.40,323.20) scale(0.9025,1)" font-size="7.98" text-anchor="end" fill="#111" stroke="#111" stroke-width="0.18" >KIR2DL1_3DL1</text>
<path d="M425.00 331.13H428.80M428.80 329.63V332.63" stroke="#333" stroke-width="0.7" fill="none"/>
<path d="M423.00 334.63H430.00M430.00 333.13V336.13" stroke="#333" stroke-width="0.7" fill="none"/>
<rect x="415.80" y="329.38" width="9.20" height="3.50" fill="#fff" stroke="#111" stroke-width="0.7"/>
<rect x="415.80" y="332.88" width="7.20" height="3.50" fill="#000"/>
<text transform="translate(412.40,335.37) scale(0.9025,1)" font-size="7.98" text-anchor="end" fill="#111" stroke="#111" stroke-width="0.18" >KIR2DL1_NKG2A</text>
<path d="M418.00 343.30H419.50M419.50 341.80V344.80" stroke="#333" stroke-width="0.7" fill="none"/>
<path d="M417.80 346.80H419.50M419.50 345.30V348.30" stroke="#333" stroke-width="0.7" fill="none"/>
<rect x="415.80" y="341.55" width="2.20" height="3.50" fill="#fff" stroke="#111" stroke-width="0.7"/>
<rect x="415.80" y="345.05" width="2.00" height="3.50" fill="#000"/>
<text transform="translate(412.40,347.53) scale(0.9025,1)" font-size="7.98" text-anchor="end" fill="#111" stroke="#111" stroke-width="0.18" >KIR2DL2/3_3DL1</text>
<path d="M429.50 355.47H433.50M433.50 353.97V356.97" stroke="#333" stroke-width="0.7" fill="none"/>
<path d="M429.50 358.97H434.60M434.60 357.47V360.47" stroke="#333" stroke-width="0.7" fill="none"/>
<rect x="415.80" y="353.72" width="13.70" height="3.50" fill="#fff" stroke="#111" stroke-width="0.7"/>
<rect x="415.80" y="357.22" width="13.70" height="3.50" fill="#000"/>
<text transform="translate(412.40,359.70) scale(0.9025,1)" font-size="7.98" text-anchor="end" fill="#111" stroke="#111" stroke-width="0.18" >KIR2DL2/3_NKG2A</text>
<path d="M422.00 367.64H427.20M427.20 366.14V369.14" stroke="#333" stroke-width="0.7" fill="none"/>
<path d="M418.50 371.14H420.00M420.00 369.64V372.64" stroke="#333" stroke-width="0.7" fill="none"/>
<rect x="415.80" y="365.89" width="6.20" height="3.50" fill="#fff" stroke="#111" stroke-width="0.7"/>
<rect x="415.80" y="369.39" width="2.70" height="3.50" fill="#000"/>
<text transform="translate(412.40,371.87) scale(0.9025,1)" font-size="7.98" text-anchor="end" fill="#111" stroke="#111" stroke-width="0.18" >KIR3DL1_NKG2A</text>
<path d="M417.40 379.81H418.20M418.20 378.31V381.31" stroke="#333" stroke-width="0.7" fill="none"/>
<path d="M417.40 383.31H418.40M418.40 381.81V384.81" stroke="#333" stroke-width="0.7" fill="none"/>
<rect x="415.80" y="378.06" width="1.60" height="3.50" fill="#fff" stroke="#111" stroke-width="0.7"/>
<rect x="415.80" y="381.56" width="1.60" height="3.50" fill="#000"/>
<text transform="translate(412.40,384.04) scale(0.9025,1)" font-size="7.98" text-anchor="end" fill="#111" stroke="#111" stroke-width="0.18" >KIR2DL1_2DL2/3_3DL1</text>
<path d="M422.00 391.97H425.00M425.00 390.47V393.47" stroke="#333" stroke-width="0.7" fill="none"/>
<path d="M420.80 395.47H425.00M425.00 393.97V396.97" stroke="#333" stroke-width="0.7" fill="none"/>
<rect x="415.80" y="390.22" width="6.20" height="3.50" fill="#fff" stroke="#111" stroke-width="0.7"/>
<rect x="415.80" y="393.72" width="5.00" height="3.50" fill="#000"/>
<text transform="translate(412.40,396.21) scale(0.9025,1)" font-size="7.98" text-anchor="end" fill="#111" stroke="#111" stroke-width="0.18" >KIR2DL1_2DL2/3_NKG2A</text>
<path d="M417.00 404.14H418.50M418.50 402.64V405.64" stroke="#333" stroke-width="0.7" fill="none"/>
<path d="M417.00 407.64H418.30M418.30 406.14V409.14" stroke="#333" stroke-width="0.7" fill="none"/>
<rect x="415.80" y="402.39" width="1.20" height="3.50" fill="#fff" stroke="#111" stroke-width="0.7"/>
<rect x="415.80" y="405.89" width="1.20" height="3.50" fill="#000"/>
<text transform="translate(412.40,408.38) scale(0.9025,1)" font-size="7.98" text-anchor="end" fill="#111" stroke="#111" stroke-width="0.18" >KIR2DL1_3DL1_NKG2A</text>
<path d="M418.00 416.31H420.00M420.00 414.81V417.81" stroke="#333" stroke-width="0.7" fill="none"/>
<path d="M418.00 419.81H420.00M420.00 418.31V421.31" stroke="#333" stroke-width="0.7" fill="none"/>
<rect x="415.80" y="414.56" width="2.20" height="3.50" fill="#fff" stroke="#111" stroke-width="0.7"/>
<rect x="415.80" y="418.06" width="2.20" height="3.50" fill="#000"/>
<text transform="translate(412.40,420.55) scale(0.9025,1)" font-size="7.98" text-anchor="end" fill="#111" stroke="#111" stroke-width="0.18" >KIR2DL2/3_3DL1_NKG2A</text>
<path d="M417.50 428.48H419.50M419.50 426.98V429.98" stroke="#333" stroke-width="0.7" fill="none"/>
<path d="M417.50 431.98H419.00M419.00 430.48V433.48" stroke="#333" stroke-width="0.7" fill="none"/>
<rect x="415.80" y="426.73" width="1.70" height="3.50" fill="#fff" stroke="#111" stroke-width="0.7"/>
<rect x="415.80" y="430.23" width="1.70" height="3.50" fill="#000"/>
<text transform="translate(412.40,432.72) scale(0.9025,1)" font-size="7.98" text-anchor="end" fill="#111" stroke="#111" stroke-width="0.18" >KIR2DL1_2DL2/3 _3DL1_NKG2A</text>
<text transform="translate(414.20,439.50) rotate(90) scale(0.84,1)" font-size="8.8" fill="#111" stroke="#111" stroke-width="0.18">0</text>
<text transform="translate(431.15,439.50) rotate(90) scale(0.84,1)" font-size="8.8" fill="#111" stroke="#111" stroke-width="0.18">10</text>
<text transform="translate(448.10,439.50) rotate(90) scale(0.84,1)" font-size="8.8" fill="#111" stroke="#111" stroke-width="0.18">20</text>
<text transform="translate(465.05,439.50) rotate(90) scale(0.84,1)" font-size="8.8" fill="#111" stroke="#111" stroke-width="0.18">30</text>
<text transform="translate(482.00,439.50) rotate(90) scale(0.84,1)" font-size="8.8" fill="#111" stroke="#111" stroke-width="0.18">40</text>
<text transform="translate(498.95,439.50) rotate(90) scale(0.84,1)" font-size="8.8" fill="#111" stroke="#111" stroke-width="0.18">50</text>
<text transform="translate(515.90,439.50) rotate(90) scale(0.84,1)" font-size="8.8" fill="#111" stroke="#111" stroke-width="0.18">60</text>
<text transform="translate(467.00,459.80) scale(0.905,1)" font-size="8.95" text-anchor="middle" fill="#111" stroke="#111" stroke-width="0.18">% NK cells</text>
<rect x="473.20" y="411.20" width="5.8" height="5.6" fill="#fff" stroke="#111" stroke-width="0.7"/>
<rect x="472.80" y="422.70" width="6.4" height="6.2" fill="#000"/>
<text transform="translate(483.40,416.50) scale(0.9,1)" font-size="9.2" fill="#444">C1/C1</text>
<text transform="translate(483.40,428.80) scale(0.9,1)" font-size="9.2" fill="#444">C2/C2</text>
<text x="312.00" y="256.60" font-size="14.6" font-weight="bold" fill="#000" stroke="#000" stroke-width="0.3">C</text>
</g>
<g id="panelD">
<line x1="51.20" y1="620.95" x2="365.00" y2="620.95" stroke="#444" stroke-width="0.9"/>
<line x1="51.20" y1="584.70" x2="365.00" y2="584.70" stroke="#333" stroke-width="0.9"/>
<line x1="51.20" y1="548.45" x2="365.00" y2="548.45" stroke="#333" stroke-width="0.9"/>
<line x1="51.20" y1="512.20" x2="365.00" y2="512.20" stroke="#999" stroke-width="0.9"/>
<line x1="51.20" y1="475.95" x2="365.00" y2="475.95" stroke="#333" stroke-width="0.9"/>
<line x1="365.00" y1="475.95" x2="365.00" y2="657.20" stroke="#bbb" stroke-width="0.8"/>
<line x1="51.20" y1="475.95" x2="51.20" y2="660.20" stroke="#444" stroke-width="0.9"/>
<line x1="51.20" y1="657.20" x2="51.20" y2="660.00" stroke="#555" stroke-width="0.7"/>
<line x1="66.14" y1="657.20" x2="66.14" y2="660.00" stroke="#555" stroke-width="0.7"/>
<line x1="81.09" y1="657.20" x2="81.09" y2="660.00" stroke="#555" stroke-width="0.7"/>
<line x1="96.03" y1="657.20" x2="96.03" y2="660.00" stroke="#555" stroke-width="0.7"/>
<line x1="110.97" y1="657.20" x2="110.97" y2="660.00" stroke="#555" stroke-width="0.7"/>
<line x1="125.91" y1="657.20" x2="125.91" y2="660.00" stroke="#555" stroke-width="0.7"/>
<line x1="140.86" y1="657.20" x2="140.86" y2="660.00" stroke="#555" stroke-width="0.7"/>
<line x1="155.80" y1="657.20" x2="155.80" y2="660.00" stroke="#555" stroke-width="0.7"/>
<line x1="170.74" y1="657.20" x2="170.74" y2="660.00" stroke="#555" stroke-width="0.7"/>
<line x1="185.69" y1="657.20" x2="185.69" y2="660.00" stroke="#555" stroke-width="0.7"/>
<line x1="200.63" y1="657.20" x2="200.63" y2="660.00" stroke="#555" stroke-width="0.7"/>
<line x1="215.57" y1="657.20" x2="215.57" y2="660.00" stroke="#555" stroke-width="0.7"/>
<line x1="230.51" y1="657.20" x2="230.51" y2="660.00" stroke="#555" stroke-width="0.7"/>
<line x1="245.46" y1="657.20" x2="245.46" y2="660.00" stroke="#555" stroke-width="0.7"/>
<line x1="260.40" y1="657.20" x2="260.40" y2="660.00" stroke="#555" stroke-width="0.7"/>
<line x1="275.34" y1="657.20" x2="275.34" y2="660.00" stroke="#555" stroke-width="0.7"/>
<line x1="290.29" y1="657.20" x2="290.29" y2="660.00" stroke="#555" stroke-width="0.7"/>
<line x1="305.23" y1="657.20" x2="305.23" y2="660.00" stroke="#555" stroke-width="0.7"/>
<line x1="320.17" y1="657.20" x2="320.17" y2="660.00" stroke="#555" stroke-width="0.7"/>
<line x1="335.11" y1="657.20" x2="335.11" y2="660.00" stroke="#555" stroke-width="0.7"/>
<line x1="350.06" y1="657.20" x2="350.06" y2="660.00" stroke="#555" stroke-width="0.7"/>
<line x1="365.00" y1="657.20" x2="365.00" y2="660.00" stroke="#555" stroke-width="0.7"/>
<text x="47.1" y="659.65" font-size="10.7" text-anchor="end" fill="#444" textLength="5.1" lengthAdjust="spacingAndGlyphs">0</text>
<text x="47.1" y="623.40" font-size="10.7" text-anchor="end" fill="#444" textLength="10.3" lengthAdjust="spacingAndGlyphs">10</text>
<text x="47.1" y="587.15" font-size="10.7" text-anchor="end" fill="#444" textLength="10.3" lengthAdjust="spacingAndGlyphs">20</text>
<text x="47.1" y="550.90" font-size="10.7" text-anchor="end" fill="#444" textLength="10.3" lengthAdjust="spacingAndGlyphs">30</text>
<text x="47.1" y="514.65" font-size="10.7" text-anchor="end" fill="#444" textLength="10.3" lengthAdjust="spacingAndGlyphs">40</text>
<text x="47.1" y="478.40" font-size="10.7" text-anchor="end" fill="#444" textLength="10.3" lengthAdjust="spacingAndGlyphs">50</text>
<text transform="translate(30.4,566.8) rotate(-90)" font-size="13.7" text-anchor="middle" fill="#222" stroke="#222" stroke-width="0.3" textLength="60.3" lengthAdjust="spacingAndGlyphs">% NK cells</text>
<rect x="52.75" y="590.00" width="12.94" height="67.20" fill="#b4b4b4" stroke="#6e6e6e" stroke-width="0.7"/>
<rect x="52.75" y="647.00" width="12.94" height="10.20" fill="#5f5f5f" stroke="#555" stroke-width="0.5"/>
<path d="M59.22 590.00V565.00M58.02 565.00H60.42" stroke="#444" stroke-width="0.7" fill="none"/>
<path d="M59.22 647.00V638.70M58.02 638.70H60.42" stroke="#333" stroke-width="0.7" fill="none"/>
<rect x="67.69" y="590.50" width="12.94" height="66.70" fill="#b4b4b4" stroke="#6e6e6e" stroke-width="0.7"/>
<rect x="67.69" y="648.70" width="12.94" height="8.50" fill="#5f5f5f" stroke="#555" stroke-width="0.5"/>
<path d="M74.16 590.50V568.70M72.96 568.70H75.36" stroke="#444" stroke-width="0.7" fill="none"/>
<path d="M74.16 648.70V646.20M72.96 646.20H75.36" stroke="#333" stroke-width="0.7" fill="none"/>
<rect x="82.64" y="595.50" width="12.94" height="61.70" fill="#b4b4b4" stroke="#6e6e6e" stroke-width="0.7"/>
<rect x="82.64" y="648.00" width="12.94" height="9.20" fill="#5f5f5f" stroke="#555" stroke-width="0.5"/>
<path d="M89.11 595.50V581.20M87.91 581.20H90.31" stroke="#444" stroke-width="0.7" fill="none"/>
<path d="M89.11 648.00V644.50M87.91 644.50H90.31" stroke="#333" stroke-width="0.7" fill="none"/>
<rect x="112.52" y="581.20" width="12.94" height="76.00" fill="#b4b4b4" stroke="#6e6e6e" stroke-width="0.7"/>
<rect x="112.52" y="643.00" width="12.94" height="14.20" fill="#5f5f5f" stroke="#555" stroke-width="0.5"/>
<path d="M118.99 581.20V555.00M117.79 555.00H120.19" stroke="#444" stroke-width="0.7" fill="none"/>
<path d="M118.99 643.00V636.20M117.79 636.20H120.19" stroke="#333" stroke-width="0.7" fill="none"/>
<rect x="127.46" y="583.00" width="12.94" height="74.20" fill="#b4b4b4" stroke="#6e6e6e" stroke-width="0.7"/>
<rect x="127.46" y="645.50" width="12.94" height="11.70" fill="#5f5f5f" stroke="#555" stroke-width="0.5"/>
<path d="M133.94 583.00V563.00M132.74 563.00H135.14" stroke="#444" stroke-width="0.7" fill="none"/>
<path d="M133.94 645.50V638.70M132.74 638.70H135.14" stroke="#333" stroke-width="0.7" fill="none"/>
<rect x="142.41" y="588.00" width="12.94" height="69.20" fill="#b4b4b4" stroke="#6e6e6e" stroke-width="0.7"/>
<rect x="142.41" y="646.20" width="12.94" height="11.00" fill="#5f5f5f" stroke="#555" stroke-width="0.5"/>
<path d="M148.88 588.00V562.00M147.68 562.00H150.08" stroke="#444" stroke-width="0.7" fill="none"/>
<path d="M148.88 646.20V642.00M147.68 642.00H150.08" stroke="#333" stroke-width="0.7" fill="none"/>
<rect x="172.29" y="614.50" width="12.94" height="42.70" fill="#b4b4b4" stroke="#6e6e6e" stroke-width="0.7"/>
<rect x="172.29" y="653.70" width="12.94" height="3.50" fill="#5f5f5f" stroke="#555" stroke-width="0.5"/>
<path d="M178.76 614.50V587.00M177.56 587.00H179.96" stroke="#444" stroke-width="0.7" fill="none"/>
<path d="M178.76 653.70V651.00M177.56 651.00H179.96" stroke="#333" stroke-width="0.7" fill="none"/>
<rect x="187.24" y="620.00" width="12.94" height="37.20" fill="#b4b4b4" stroke="#6e6e6e" stroke-width="0.7"/>
<rect x="187.24" y="652.00" width="12.94" height="5.20" fill="#5f5f5f" stroke="#555" stroke-width="0.5"/>
<path d="M193.71 620.00V604.50M192.51 604.50H194.91" stroke="#444" stroke-width="0.7" fill="none"/>
<path d="M193.71 652.00V648.70M192.51 648.70H194.91" stroke="#333" stroke-width="0.7" fill="none"/>
<rect x="202.18" y="617.50" width="12.94" height="39.70" fill="#b4b4b4" stroke="#6e6e6e" stroke-width="0.7"/>
<rect x="202.18" y="652.00" width="12.94" height="5.20" fill="#5f5f5f" stroke="#555" stroke-width="0.5"/>
<path d="M208.65 617.50V584.50M207.45 584.50H209.85" stroke="#444" stroke-width="0.7" fill="none"/>
<path d="M208.65 652.00V648.70M207.45 648.70H209.85" stroke="#333" stroke-width="0.7" fill="none"/>
<rect x="261.95" y="596.20" width="12.94" height="61.00" fill="#b4b4b4" stroke="#6e6e6e" stroke-width="0.7"/>
<rect x="261.95" y="645.80" width="12.94" height="11.40" fill="#5f5f5f" stroke="#555" stroke-width="0.5"/>
<path d="M268.42 596.20V572.00M267.22 572.00H269.62" stroke="#444" stroke-width="0.7" fill="none"/>
<path d="M268.42 645.80V636.60M267.22 636.60H269.62" stroke="#333" stroke-width="0.7" fill="none"/>
<rect x="276.89" y="592.50" width="12.94" height="64.70" fill="#b4b4b4" stroke="#6e6e6e" stroke-width="0.7"/>
<rect x="276.89" y="640.00" width="12.94" height="17.20" fill="#5f5f5f" stroke="#555" stroke-width="0.5"/>
<path d="M283.36 592.50V572.20M282.16 572.20H284.56" stroke="#444" stroke-width="0.7" fill="none"/>
<path d="M283.36 640.00V628.00M282.16 628.00H284.56" stroke="#333" stroke-width="0.7" fill="none"/>
<rect x="291.84" y="533.70" width="12.94" height="123.50" fill="#b4b4b4" stroke="#6e6e6e" stroke-width="0.7"/>
<rect x="291.84" y="600.50" width="12.94" height="56.70" fill="#5f5f5f" stroke="#555" stroke-width="0.5"/>
<path d="M298.31 533.70V514.50M297.11 514.50H299.51" stroke="#444" stroke-width="0.7" fill="none"/>
<path d="M298.31 600.50V551.20M297.11 551.20H299.51" stroke="#333" stroke-width="0.7" fill="none"/>
<rect x="321.72" y="557.00" width="12.94" height="100.20" fill="#b4b4b4" stroke="#6e6e6e" stroke-width="0.7"/>
<rect x="321.72" y="622.00" width="12.94" height="35.20" fill="#5f5f5f" stroke="#555" stroke-width="0.5"/>
<path d="M328.19 557.00V547.00M326.99 547.00H329.39" stroke="#444" stroke-width="0.7" fill="none"/>
<path d="M328.19 622.00V588.00M326.99 588.00H329.39" stroke="#333" stroke-width="0.7" fill="none"/>
<rect x="336.66" y="573.70" width="12.94" height="83.50" fill="#b4b4b4" stroke="#6e6e6e" stroke-width="0.7"/>
<rect x="336.66" y="630.50" width="12.94" height="26.70" fill="#5f5f5f" stroke="#555" stroke-width="0.5"/>
<path d="M343.14 573.70V561.20M341.94 561.20H344.34" stroke="#444" stroke-width="0.7" fill="none"/>
<path d="M343.14 630.50V603.70M341.94 603.70H344.34" stroke="#333" stroke-width="0.7" fill="none"/>
<rect x="351.61" y="580.00" width="12.94" height="77.20" fill="#b4b4b4" stroke="#6e6e6e" stroke-width="0.7"/>
<rect x="351.61" y="640.00" width="12.94" height="17.20" fill="#5f5f5f" stroke="#555" stroke-width="0.5"/>
<path d="M358.08 580.00V566.20M356.88 566.20H359.28" stroke="#444" stroke-width="0.7" fill="none"/>
<path d="M358.08 640.00V628.70M356.88 628.70H359.28" stroke="#333" stroke-width="0.7" fill="none"/>
<line x1="51.20" y1="657.20" x2="365.00" y2="657.20" stroke="#333" stroke-width="1"/>
<text x="53.00" y="665.9" font-size="6.3" font-weight="bold" fill="#2a2a2a" textLength="9.5" lengthAdjust="spacingAndGlyphs">C1/</text>
<text x="53.00" y="673.6" font-size="6.3" font-weight="bold" fill="#2a2a2a" textLength="6.6" lengthAdjust="spacingAndGlyphs">C1</text>
<text x="70.00" y="665.9" font-size="6.3" font-weight="bold" fill="#2a2a2a" textLength="9.5" lengthAdjust="spacingAndGlyphs">C1/</text>
<text x="70.00" y="673.6" font-size="6.3" font-weight="bold" fill="#2a2a2a" textLength="6.6" lengthAdjust="spacingAndGlyphs">C2</text>
<text x="85.00" y="665.9" font-size="6.3" font-weight="bold" fill="#2a2a2a" textLength="9.5" lengthAdjust="spacingAndGlyphs">C2/</text>
<text x="85.00" y="673.6" font-size="6.3" font-weight="bold" fill="#2a2a2a" textLength="6.6" lengthAdjust="spacingAndGlyphs">C2</text>
<text x="112.50" y="665.9" font-size="6.3" font-weight="bold" fill="#2a2a2a" textLength="9.5" lengthAdjust="spacingAndGlyphs">C1/</text>
<text x="112.50" y="673.6" font-size="6.3" font-weight="bold" fill="#2a2a2a" textLength="6.6" lengthAdjust="spacingAndGlyphs">C1</text>
<text x="130.00" y="665.9" font-size="6.3" font-weight="bold" fill="#2a2a2a" textLength="9.5" lengthAdjust="spacingAndGlyphs">C1/</text>
<text x="130.00" y="673.6" font-size="6.3" font-weight="bold" fill="#2a2a2a" textLength="6.6" lengthAdjust="spacingAndGlyphs">C2</text>
<text x="147.00" y="665.9" font-size="6.3" font-weight="bold" fill="#2a2a2a" textLength="9.5" lengthAdjust="spacingAndGlyphs">C2/</text>
<text x="147.00" y="673.6" font-size="6.3" font-weight="bold" fill="#2a2a2a" textLength="6.6" lengthAdjust="spacingAndGlyphs">C2</text>
<text x="170.50" y="665.9" font-size="6.3" font-weight="bold" fill="#2a2a2a" textLength="14.6" lengthAdjust="spacingAndGlyphs">Bw4/</text>
<text x="170.50" y="673.6" font-size="6.3" font-weight="bold" fill="#2a2a2a" textLength="11.3" lengthAdjust="spacingAndGlyphs">Bw4</text>
<text x="187.00" y="665.9" font-size="6.3" font-weight="bold" fill="#2a2a2a" textLength="14.6" lengthAdjust="spacingAndGlyphs">Bw4/</text>
<text x="187.00" y="673.6" font-size="6.3" font-weight="bold" fill="#2a2a2a" textLength="11.3" lengthAdjust="spacingAndGlyphs">Bw6</text>
<text x="203.50" y="665.9" font-size="6.3" font-weight="bold" fill="#2a2a2a" textLength="14.6" lengthAdjust="spacingAndGlyphs">Bw6/</text>
<text x="203.50" y="673.6" font-size="6.3" font-weight="bold" fill="#2a2a2a" textLength="11.3" lengthAdjust="spacingAndGlyphs">Bw6</text>
<text x="263.00" y="665.9" font-size="6.3" font-weight="bold" fill="#2a2a2a" textLength="9.5" lengthAdjust="spacingAndGlyphs">C1/</text>
<text x="263.00" y="673.6" font-size="6.3" font-weight="bold" fill="#2a2a2a" textLength="6.6" lengthAdjust="spacingAndGlyphs">C1</text>
<text x="278.30" y="665.9" font-size="6.3" font-weight="bold" fill="#2a2a2a" textLength="9.5" lengthAdjust="spacingAndGlyphs">C1/</text>
<text x="278.30" y="673.6" font-size="6.3" font-weight="bold" fill="#2a2a2a" textLength="6.6" lengthAdjust="spacingAndGlyphs">C2</text>
<text x="293.80" y="665.9" font-size="6.3" font-weight="bold" fill="#2a2a2a" textLength="9.5" lengthAdjust="spacingAndGlyphs">C2/</text>
<text x="293.80" y="673.6" font-size="6.3" font-weight="bold" fill="#2a2a2a" textLength="6.6" lengthAdjust="spacingAndGlyphs">C2</text>
<text x="323.00" y="665.9" font-size="6.3" font-weight="bold" fill="#2a2a2a" textLength="9.5" lengthAdjust="spacingAndGlyphs">C1/</text>
<text x="323.00" y="673.6" font-size="6.3" font-weight="bold" fill="#2a2a2a" textLength="6.6" lengthAdjust="spacingAndGlyphs">C1</text>
<text x="340.00" y="665.9" font-size="6.3" font-weight="bold" fill="#2a2a2a" textLength="9.5" lengthAdjust="spacingAndGlyphs">C1/</text>
<text x="340.00" y="673.6" font-size="6.3" font-weight="bold" fill="#2a2a2a" textLength="6.6" lengthAdjust="spacingAndGlyphs">C2</text>
<text x="355.50" y="665.9" font-size="6.3" font-weight="bold" fill="#2a2a2a" textLength="9.5" lengthAdjust="spacingAndGlyphs">C2/</text>
<text x="355.50" y="673.6" font-size="6.3" font-weight="bold" fill="#2a2a2a" textLength="6.6" lengthAdjust="spacingAndGlyphs">C2</text>
<text x="54.60" y="686" font-size="10.5" fill="#3a3a3a" textLength="33.2" lengthAdjust="spacingAndGlyphs">KIR2DL1</text>
<text x="113.00" y="686" font-size="10.5" fill="#3a3a3a" textLength="33.2" lengthAdjust="spacingAndGlyphs">KIR2DL3</text>
<text x="176.60" y="686" font-size="10.5" fill="#3a3a3a" textLength="33.2" lengthAdjust="spacingAndGlyphs">KIR3DL1</text>
<text x="266.20" y="686" font-size="10.5" fill="#3a3a3a" textLength="33.2" lengthAdjust="spacingAndGlyphs">KIR2DL1</text>
<text x="323.70" y="686" font-size="10.5" fill="#3a3a3a" textLength="33.2" lengthAdjust="spacingAndGlyphs">KIR2DL3</text>
<path d="M42.6 687.5V692.4Q42.6 693.9 44.2 693.9H132.2Q133.8 694 133.8 696V700.8M133.8 696Q133.8 694 135.4 693.9H219.6Q221.2 693.9 221.2 692.4V687.5" stroke="#666" stroke-width="0.8" fill="none"/>
<path d="M257.5 687.5V692.4Q257.5 693.9 259.1 693.9H312.8Q314.4 694 314.4 696V700.8M314.4 696Q314.4 694 316 693.9H365.5Q367.1 693.9 367.1 692.4V687.5" stroke="#999" stroke-width="0.8" fill="none" stroke-dasharray="1.2 0.8"/>
<path d="M257.5 687.3V691M367.1 687.3V691M314.4 695V700.8" stroke="#666" stroke-width="0.8" fill="none"/>
<text x="134.2" y="713" font-size="10.5" text-anchor="middle" fill="#3a3a3a" textLength="10.8" lengthAdjust="spacingAndGlyphs">CB</text>
<text x="317" y="713" font-size="10.5" text-anchor="middle" fill="#3a3a3a" textLength="10.6" lengthAdjust="spacingAndGlyphs">PB</text>
<path d="M262.5 503.7V495.5H298V503.7" stroke="#777" stroke-width="0.8" fill="none"/>
<path d="M323 503.7V495.5H358.7V503.7" stroke="#777" stroke-width="0.8" fill="none"/>
<text x="279.3" y="497.3" font-size="8" font-weight="bold" text-anchor="middle" letter-spacing="0.9" fill="#222">***</text>
<text x="340.5" y="497.3" font-size="8" font-weight="bold" text-anchor="middle" fill="#222">*</text>
<text x="1.1" y="478.6" font-size="14.6" font-weight="bold" fill="#000" stroke="#000" stroke-width="0.3">D</text>
</g>
</svg>
</body></html>
